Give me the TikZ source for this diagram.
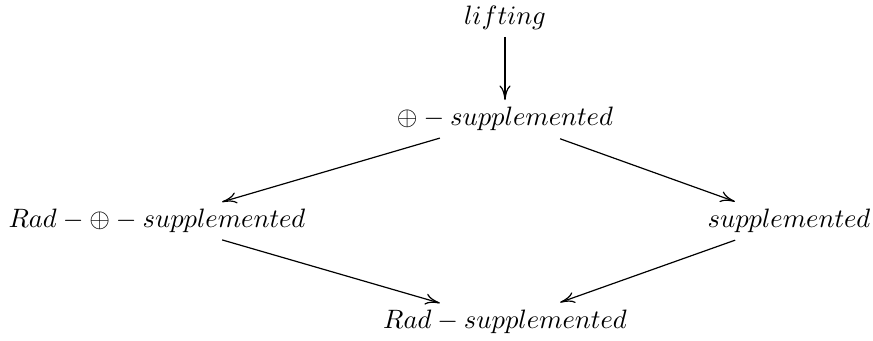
\documentclass[tikz,border=0pt]{standalone}
\usetikzlibrary{arrows.meta}
\begin{document}
\begin{tikzpicture}[x=0.3759pt,y=-0.3759pt,
  lbl/.style={inner sep=3.5pt},
  arr/.style={-{To[length=5.5pt,width=4.2pt]},line width=0.45pt}]
\useasboundingbox (0,0) rectangle (873,341);
\node[lbl] (lift) at (505,18) {$lifting$};
\node[lbl] (osup) at (505,119) {$\oplus - supplemented$};
\node[lbl] (rosup) at (157,221) {$Rad - \oplus - supplemented$};
\node[lbl] (sup) at (789,221) {$supplemented$};
\node[lbl] (rsup) at (505,322) {$Rad - supplemented$};
\draw[arr,shorten <=7.1pt,shorten >=7.1pt] (lift.center) -- (osup.center);
\draw[arr,shorten <=25.5pt,shorten >=25.5pt] (osup.center) -- (rosup.center);
\draw[arr,shorten <=22pt,shorten >=21.6pt] (osup.center) -- (sup.center);
\draw[arr,shorten <=25.5pt,shorten >=25.5pt] (rosup.center) -- (rsup.center);
\draw[arr,shorten <=21.5pt,shorten >=22pt] (sup.center) -- (rsup.center);
\end{tikzpicture}
\end{document}
